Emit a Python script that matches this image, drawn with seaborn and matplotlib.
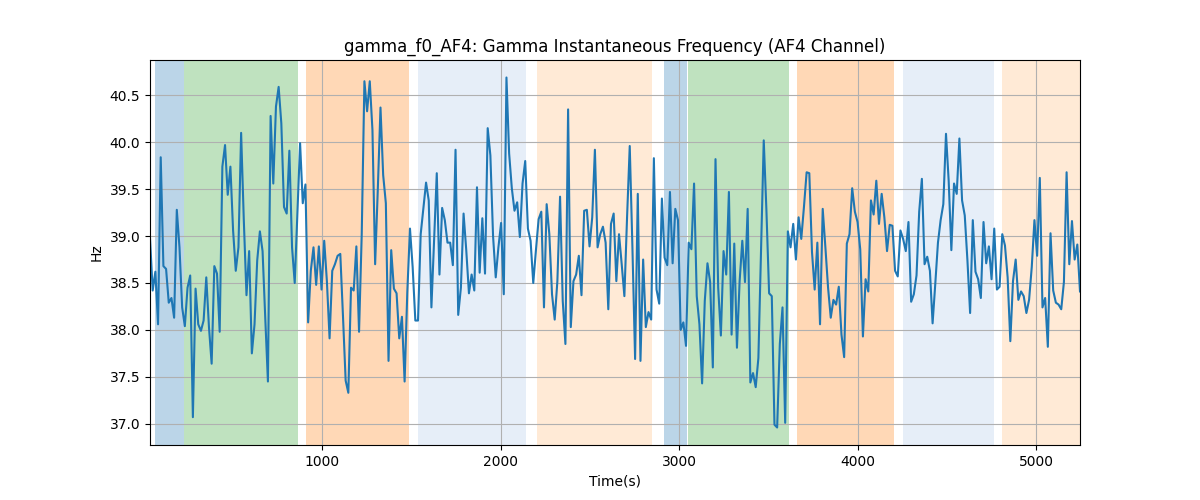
import numpy as np
import matplotlib
matplotlib.use("Agg")
import matplotlib.pyplot as plt
import seaborn as sns

# gamma instantaneous frequency in chunks (Hz)
seg1 = [38.98, 38.42, 38.62, 38.06, 39.84, 38.68, 38.65, 38.29, 38.34, 38.13,
        39.28, 38.88, 38.24, 38.04, 38.45, 38.58, 37.07, 38.44, 38.06, 37.99,
        38.10, 38.56, 38.03, 37.64, 38.68, 38.60, 37.98, 39.74, 39.97, 39.44,
        39.74, 39.06, 38.63, 38.88, 40.10, 39.17, 38.37, 38.84, 37.75, 38.06,
        38.74, 39.05, 38.84, 38.13, 37.45, 40.28, 39.56, 40.38, 40.59, 40.20]
seg2 = [39.31, 39.24, 39.91, 38.88, 38.50, 39.25, 39.99, 39.35, 39.55, 38.08,
        38.63, 38.88, 38.48, 38.89, 38.43, 38.95, 38.52, 37.91, 38.63, 38.70,
        38.79, 38.81, 38.15, 37.46, 37.33, 38.45, 38.42, 38.89, 37.98, 39.02,
        40.65, 40.33, 40.65, 40.13, 38.70, 39.50, 40.37, 39.65, 39.35, 37.67,
        38.85, 38.44, 38.39, 37.91, 38.14, 37.45, 38.40, 39.08, 38.67]
seg3 = [38.10, 38.10, 39.02, 39.29, 39.57, 39.38, 38.24, 38.95, 39.67, 38.59,
        39.30, 39.17, 38.93, 38.93, 38.69, 39.92, 38.16, 38.45, 39.24, 38.85,
        38.39, 38.59, 38.42, 39.52, 38.61, 39.19, 38.60, 40.15, 39.86, 39.00,
        38.56, 38.88, 39.14, 38.38, 40.69, 39.88, 39.51, 39.27, 39.36, 38.99,
        39.56, 39.80, 39.08, 38.95, 38.50, 38.85, 39.18, 39.26, 38.24, 39.34,
        39.02]
seg4 = [38.38, 38.11, 38.52, 39.42, 38.31, 37.85, 40.35, 38.03, 38.52, 38.59,
        38.79, 38.37, 39.27, 39.28, 38.89, 39.20, 39.92, 38.88, 39.02, 39.10,
        38.93, 38.22, 39.13, 39.24, 38.52, 39.02, 38.70, 38.36, 39.20, 39.96,
        38.88, 37.69, 39.45, 37.67, 38.75, 38.03, 38.19, 38.11, 39.83, 38.43,
        38.28, 39.40, 38.77, 38.69, 39.47, 38.71, 39.29, 39.17, 38.00, 38.08]
seg5 = [37.83, 38.93, 38.86, 39.56, 38.36, 38.06, 37.43, 38.31, 38.71, 38.51,
        37.60, 39.82, 38.45, 37.94, 38.84, 38.59, 39.47, 37.95, 38.92, 37.81,
        38.52, 38.95, 38.51, 39.29, 37.44, 37.54, 37.39, 37.70, 38.88, 40.02,
        39.27, 38.39, 38.36, 36.99, 36.96, 37.85, 38.24, 37.01, 39.05, 38.88,
        39.13, 38.75, 39.20, 38.97, 39.31, 39.68, 39.67, 38.83, 38.43, 38.93]
seg6 = [38.06, 39.29, 38.88, 38.45, 38.13, 38.32, 38.27, 38.46, 37.95, 37.71,
        38.92, 39.02, 39.51, 39.26, 39.15, 38.86, 37.93, 38.54, 38.41, 39.38,
        39.23, 39.59, 39.13, 39.45, 39.20, 38.84, 39.12, 39.11, 38.63, 38.57,
        39.06, 38.97, 38.84, 39.15, 38.30, 38.38, 38.58, 39.26, 39.61, 38.70,
        38.78, 38.63, 38.07, 38.49, 38.93, 39.17, 39.34, 40.09, 39.59, 38.85]
seg7 = [39.56, 39.45, 40.04, 39.38, 39.22, 38.74, 38.18, 39.17, 38.62, 38.54,
        38.34, 39.15, 38.71, 38.89, 38.54, 39.08, 38.43, 38.46, 39.02, 38.90,
        38.56, 37.88, 38.52, 38.75, 38.32, 38.41, 38.36, 38.18, 38.32, 38.67,
        39.17, 38.79, 39.62, 38.24, 38.34, 37.82, 39.03, 38.42, 38.29, 38.27,
        38.22, 38.51, 39.68, 38.70, 39.16, 38.75, 38.91, 38.41]

t_start, t_end = 34, 5245

# shaded phases
span_start = [63, 227, 910, 1538, 2200, 2914, 3047, 3658, 4253, 4808]
span_end = [224, 863, 1486, 2142, 2849, 3043, 3612, 4202, 4762, 5245]
span_color = ["tab:blue", "tab:green", "tab:orange", "#aec7e8", "#ffbb78",
              "tab:blue", "tab:green", "tab:orange", "#aec7e8", "#ffbb78"]

freq = np.concatenate([seg1, seg2, seg3, seg4, seg5, seg6, seg7])
time = np.linspace(t_start, t_end, len(freq))

fig, ax = plt.subplots(figsize=(12, 5), dpi=100)

for s, e, c in zip(span_start, span_end, span_color):
    ax.axvspan(s, e, color=c, alpha=0.3, linewidth=0)

sns.lineplot(x=time, y=freq, ax=ax, color="tab:blue", linewidth=1.5)

ax.set_xlim(time[0], time[-1])
ax.grid(True)
ax.set_title("gamma_f0_AF4: Gamma Instantaneous Frequency (AF4 Channel)")
ax.set_xlabel("Time(s)")
ax.set_ylabel("Hz")

plt.savefig("out.png")
